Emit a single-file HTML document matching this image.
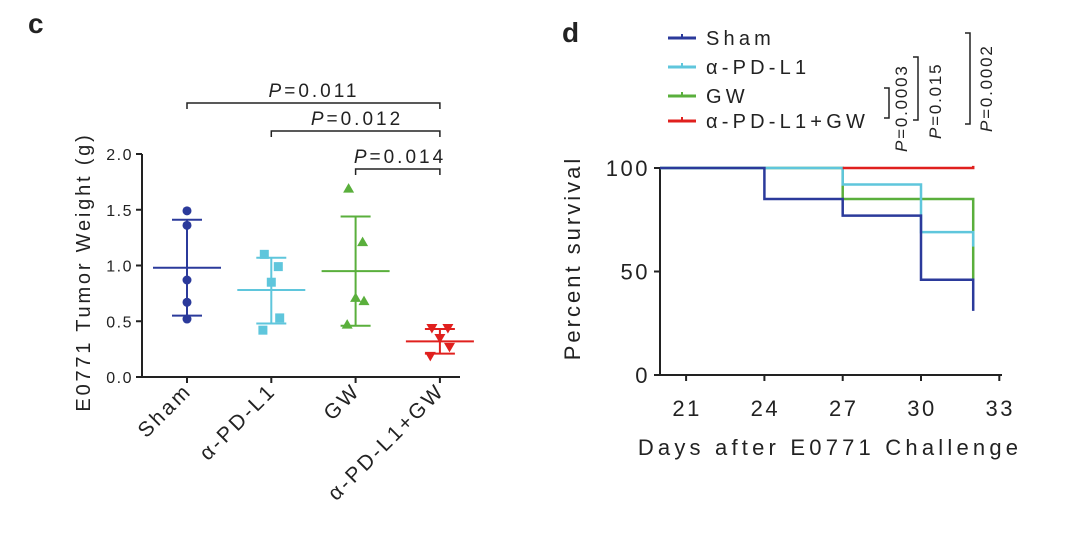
<!DOCTYPE html>
<html><head><meta charset="utf-8"><style>
body{margin:0;background:#fff;width:1080px;height:543px;overflow:hidden}
svg text{font-family:"Liberation Sans",sans-serif;fill:#222}
</style></head><body>
<svg id="s" width="1080" height="543" xmlns="http://www.w3.org/2000/svg">
<text x="28" y="33" font-size="28" font-weight="bold">c</text>
<text x="562" y="42" font-size="28" font-weight="bold">d</text>
<g id="c"></g>
<g id="d"></g>
</svg>
<script>
const groups=["Sham","α-PD-L1","GW","α-PD-L1+GW"];
const colors=["#2b3a9b","#5fc6dc","#5aaf3c","#e0201e"];
const shamPts=[1.49,1.36,0.87,0.67,0.52];
const pdl1Pts=[1.10,0.99,0.85,0.53,0.42];
const gwPts=[1.69,1.21,0.71,0.68,0.47];
const comboPts=[0.44,0.44,0.35,0.27,0.19];
const means=[0.98,0.78,0.95,0.32];
const upper=[1.41,1.07,1.44,0.43];
const lower=[0.55,0.48,0.46,0.21];
const cTicks=["0.0","0.5","1.0","1.5","2.0"];
const days=[20,24,27,30,32];
const shamSurv=[100,85,77,46,31];
const pdl1Surv=[100,100,92,69,62];
const gwSurv=[100,100,85,85,46];
const comboSurv=[100,100,100,100,101];
const dTicksX=[21,24,27,30,33];
const dTicksY=[0,50,100];
const NS="http://www.w3.org/2000/svg";
function mk(p,t,a,txt){const e=document.createElementNS(NS,t);for(const k in a)e.setAttribute(k,a[k]);if(txt!==undefined)e.textContent=txt;p.appendChild(e);return e;}
// Panel c
const C=document.getElementById('c');
const cy=v=>377-v*111.5, cx=i=>187+i*84.3;
let e=mk(C,'path',{d:'M142 154V377H460',stroke:'#222','stroke-width':2,fill:'none'});

cTicks.forEach(t=>{const y=cy(+t);
 e=mk(C,'line',{x1:136,x2:142,y1:y,y2:y,stroke:'#222','stroke-width':2});
 e=mk(C,'text',{x:133,y:y+6,'font-size':16,'text-anchor':'end','letter-spacing':'1.5'},t);
 });
e=mk(C,'text',{transform:'translate(90,272) rotate(-90)','font-size':20,'text-anchor':'middle','letter-spacing':'2.8'},'E0771 Tumor Weight (g)');

const pts=[shamPts,pdl1Pts,gwPts,comboPts];
groups.forEach((g,i)=>{const x=cx(i),col=colors[i];
 mk(C,'line',{x1:x,x2:x,y1:377,y2:383,stroke:'#222','stroke-width':2});
 e=mk(C,'text',{transform:`translate(${x+6},392) rotate(-45)`,'font-size':21,'text-anchor':'end','letter-spacing':'2.8'},g);
 
 mk(C,'line',{x1:x-34,x2:x+34,y1:cy(means[i]),y2:cy(means[i]),stroke:col,'stroke-width':2});
 mk(C,'line',{x1:x,x2:x,y1:cy(upper[i]),y2:cy(lower[i]),stroke:col,'stroke-width':2});
 mk(C,'line',{x1:x-15,x2:x+15,y1:cy(upper[i]),y2:cy(upper[i]),stroke:col,'stroke-width':2});
 mk(C,'line',{x1:x-15,x2:x+15,y1:cy(lower[i]),y2:cy(lower[i]),stroke:col,'stroke-width':2});
 pts[i].forEach((v,j)=>{const dx=(i===0)?0:[-5,5,0,6,-6][j]*(i===3?1.6:1.4);const px=x+dx,py=cy(v);let m;
  if(i===0)m=mk(C,'circle',{cx:px,cy:py,r:4.5,fill:col});
  else if(i===1)m=mk(C,'rect',{x:px-4.5,y:py-4.5,width:9,height:9,fill:col});
  else if(i===2)m=mk(C,'path',{d:`M${px} ${py-5.5}L${px+5.5} ${py+4}L${px-5.5} ${py+4}Z`,fill:col});
  else m=mk(C,'path',{d:`M${px} ${py+5.5}L${px+5.5} ${py-4}L${px-5.5} ${py-4}Z`,fill:col});
  });
});
[[0,3,103,'0.011',314],[1,3,131,'0.012',357],[2,3,169,'0.014',400]].forEach(b=>{
 const x1=cx(b[0]),x2=cx(b[1]);
 mk(C,'path',{d:`M${x1} ${b[2]+6}V${b[2]}H${x2}V${b[2]+6}`,stroke:'#222','stroke-width':1.5,fill:'none'});
 e=mk(C,'text',{x:b[4],y:b[2]-6,'font-size':19,'text-anchor':'middle','letter-spacing':'3'});
 e.innerHTML='<tspan font-style="italic">P</tspan>='+b[3];
 });
// Panel d
const D=document.getElementById('d');
const dx=v=>660+(v-20)*26.1, dy=v=>375-v*2.07;
e=mk(D,'path',{d:'M660 168V375H1002',stroke:'#222','stroke-width':2,fill:'none'});

dTicksY.forEach(t=>{const y=dy(t);mk(D,'line',{x1:654,x2:660,y1:y,y2:y,stroke:'#222','stroke-width':2});
 e=mk(D,'text',{x:650,y:y+8,'font-size':22,'text-anchor':'end','letter-spacing':'2.5'},t);
 });
dTicksX.forEach(t=>{const x=dx(t);mk(D,'line',{x1:x,x2:x,y1:375,y2:381,stroke:'#222','stroke-width':2});
 e=mk(D,'text',{x:x+1,y:416,'font-size':22,'text-anchor':'middle','letter-spacing':'2.5'},t);
 });
e=mk(D,'text',{x:830,y:455,'font-size':22,'text-anchor':'middle','letter-spacing':'4.2'},'Days after E0771 Challenge');

e=mk(D,'text',{transform:'translate(580,258) rotate(-90)','font-size':22,'text-anchor':'middle','letter-spacing':'3'},'Percent survival');

const surv=[shamSurv,pdl1Surv,gwSurv,comboSurv];
[2,1,0,3].forEach(i=>{const s=surv[i];let d=`M${dx(days[0])} ${dy(s[0])}`;
 for(let k=1;k<days.length;k++){d+=`H${dx(days[k])}V${dy(s[k])}`;}
 if(i===3){d=`M${dx(27)} ${dy(100)}H${dx(32)}V${dy(s[4])}`;}
 e=mk(D,'path',{d:d,stroke:colors[i],'stroke-width':2.5,fill:'none'});
 });
groups.forEach((g,i)=>{const y=[38,67,96,121][i];
 mk(D,'line',{x1:668,x2:696,y1:y,y2:y,stroke:colors[i],'stroke-width':3});
 mk(D,'line',{x1:682,x2:682,y1:y-4,y2:y,stroke:colors[i],'stroke-width':2});
 e=mk(D,'text',{x:706,y:y+7,'font-size':20,'letter-spacing':'4.2'},g);
 });
[[889,88,118,907,'0.0003',152],[918,57,120,941,'0.015',139],[970,33,124,992,'0.0002',132]].forEach(b=>{
 mk(D,'path',{d:`M${b[0]-5} ${b[1]}H${b[0]}V${b[2]}H${b[0]-5}`,stroke:'#222','stroke-width':1.5,fill:'none'});
 e=mk(D,'text',{transform:`translate(${b[3]},${b[5]}) rotate(-90)`,'font-size':17,'letter-spacing':'1.8'});
 e.innerHTML='<tspan font-style="italic">P</tspan>='+b[4];
 });
</script>
</body></html>
